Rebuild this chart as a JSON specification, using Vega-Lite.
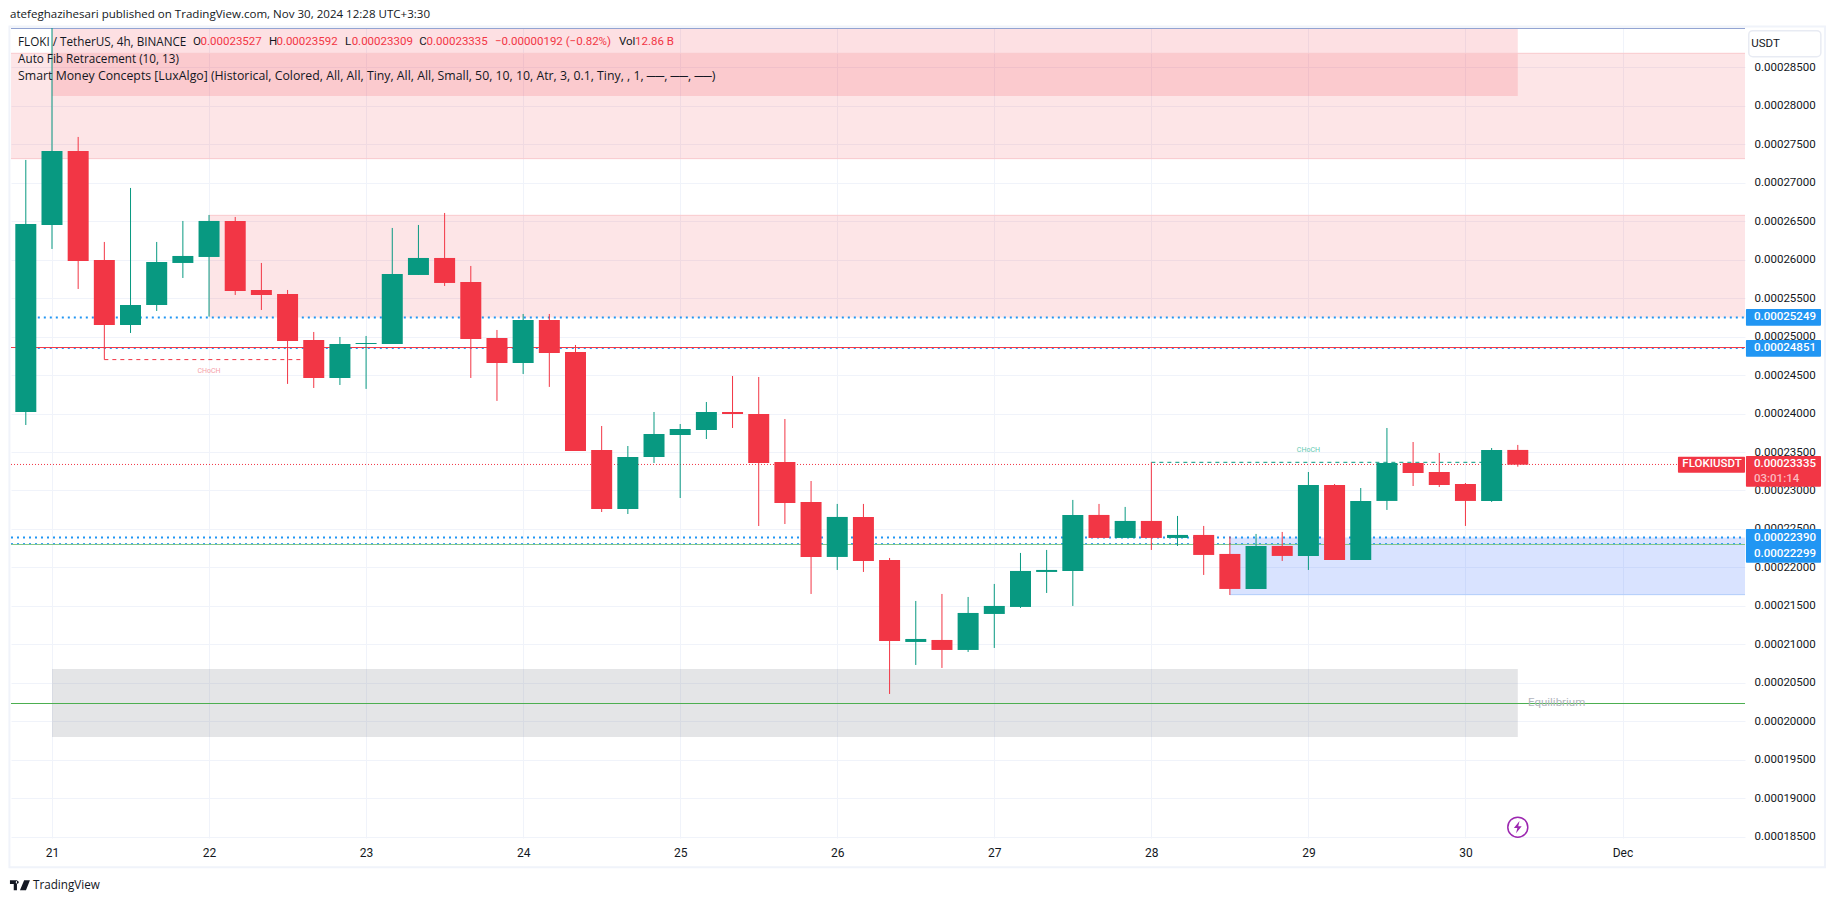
{"$schema":"https://vega.github.io/schema/vega-lite/v6.json","width":1734,"height":810,"autosize":"none","padding":{"left":11,"top":28,"right":90,"bottom":65},"background":"white","config":{"view":{"stroke":null},"font":"Roboto"},
"datasets":{
"candles":[
{"t":20.8333,"open":0.00024021,"high":0.00027296,"low":0.00023851,"close":0.00026464,"kind":"up"},
{"t":21,"open":0.00026451,"high":0.00029011,"low":0.00026139,"close":0.00027413,"kind":"up"},
{"t":21.1667,"open":0.00027413,"high":0.00027595,"low":0.00025619,"close":0.00025983,"kind":"down"},
{"t":21.3333,"open":0.00025996,"high":0.0002623,"low":0.00024701,"close":0.00025151,"kind":"down"},
{"t":21.5,"open":0.00025151,"high":0.00026932,"low":0.00025047,"close":0.00025411,"kind":"up"},
{"t":21.6667,"open":0.00025411,"high":0.0002623,"low":0.00025333,"close":0.0002597,"kind":"up"},
{"t":21.8333,"open":0.00025957,"high":0.00026503,"low":0.00025762,"close":0.00026048,"kind":"up"},
{"t":22,"open":0.00026035,"high":0.00026581,"low":0.0002526,"close":0.00026503,"kind":"up"},
{"t":22.1667,"open":0.00026503,"high":0.00026555,"low":0.00025541,"close":0.00025593,"kind":"down"},
{"t":22.3333,"open":0.00025606,"high":0.00025957,"low":0.00025346,"close":0.00025541,"kind":"down"},
{"t":22.5,"open":0.00025554,"high":0.00025606,"low":0.00024385,"close":0.00024943,"kind":"down"},
{"t":22.6667,"open":0.00024956,"high":0.0002506,"low":0.00024332,"close":0.00024462,"kind":"down"},
{"t":22.8333,"open":0.00024462,"high":0.00024995,"low":0.00024371,"close":0.00024904,"kind":"up"},
{"t":23,"open":0.00024904,"high":0.00025008,"low":0.0002432,"close":0.00024917,"kind":"up"},
{"t":23.1667,"open":0.00024904,"high":0.00026412,"low":0.00024904,"close":0.00025814,"kind":"up"},
{"t":23.3333,"open":0.00025801,"high":0.00026451,"low":0.00025801,"close":0.00026022,"kind":"up"},
{"t":23.5,"open":0.00026022,"high":0.00026607,"low":0.00025658,"close":0.00025697,"kind":"down"},
{"t":23.6667,"open":0.0002571,"high":0.00025918,"low":0.00024462,"close":0.00024969,"kind":"down"},
{"t":23.8333,"open":0.00024982,"high":0.00025086,"low":0.00024164,"close":0.00024657,"kind":"down"},
{"t":24,"open":0.00024657,"high":0.00025294,"low":0.00024514,"close":0.00025216,"kind":"up"},
{"t":24.1667,"open":0.00025216,"high":0.00025294,"low":0.00024346,"close":0.00024787,"kind":"down"},
{"t":24.3333,"open":0.000248,"high":0.00024891,"low":0.00023513,"close":0.00023513,"kind":"down"},
{"t":24.5,"open":0.00023526,"high":0.00023838,"low":0.0002272,"close":0.00022759,"kind":"down"},
{"t":24.6667,"open":0.00022759,"high":0.00023578,"low":0.00022694,"close":0.00023435,"kind":"up"},
{"t":24.8333,"open":0.00023435,"high":0.0002402,"low":0.00023357,"close":0.00023734,"kind":"up"},
{"t":25,"open":0.00023721,"high":0.00023864,"low":0.00022902,"close":0.00023799,"kind":"up"},
{"t":25.1667,"open":0.00023786,"high":0.0002415,"low":0.00023669,"close":0.0002402,"kind":"up"},
{"t":25.3333,"open":0.0002402,"high":0.00024488,"low":0.00023812,"close":0.00023994,"kind":"down"},
{"t":25.5,"open":0.00023994,"high":0.00024475,"low":0.00022538,"close":0.00023357,"kind":"down"},
{"t":25.6667,"open":0.0002337,"high":0.00023929,"low":0.00022564,"close":0.00022837,"kind":"down"},
{"t":25.8333,"open":0.00022851,"high":0.00023123,"low":0.00021655,"close":0.00022136,"kind":"down"},
{"t":26,"open":0.00022136,"high":0.00022825,"low":0.00021967,"close":0.00022656,"kind":"up"},
{"t":26.1667,"open":0.00022656,"high":0.00022825,"low":0.00021941,"close":0.00022084,"kind":"down"},
{"t":26.3333,"open":0.00022097,"high":0.00022123,"low":0.00020355,"close":0.00021044,"kind":"down"},
{"t":26.5,"open":0.00021031,"high":0.00021564,"low":0.00020732,"close":0.0002107,"kind":"up"},
{"t":26.6667,"open":0.00021057,"high":0.00021655,"low":0.00020693,"close":0.00020927,"kind":"down"},
{"t":26.8333,"open":0.00020927,"high":0.00021616,"low":0.00020901,"close":0.00021408,"kind":"up"},
{"t":27,"open":0.00021395,"high":0.00021785,"low":0.00020953,"close":0.00021499,"kind":"up"},
{"t":27.1667,"open":0.00021486,"high":0.00022188,"low":0.00021473,"close":0.00021954,"kind":"up"},
{"t":27.3333,"open":0.00021941,"high":0.00022227,"low":0.00021668,"close":0.00021967,"kind":"up"},
{"t":27.5,"open":0.00021954,"high":0.00022877,"low":0.00021499,"close":0.00022682,"kind":"up"},
{"t":27.6667,"open":0.00022682,"high":0.00022825,"low":0.00022383,"close":0.00022383,"kind":"down"},
{"t":27.8333,"open":0.00022383,"high":0.00022786,"low":0.00022383,"close":0.00022604,"kind":"up"},
{"t":28,"open":0.00022604,"high":0.00023366,"low":0.00022227,"close":0.00022383,"kind":"down"},
{"t":28.1667,"open":0.00022383,"high":0.00022669,"low":0.00022279,"close":0.00022422,"kind":"up"},
{"t":28.3333,"open":0.00022422,"high":0.00022539,"low":0.00021902,"close":0.00022162,"kind":"down"},
{"t":28.5,"open":0.00022175,"high":0.000224,"low":0.00021642,"close":0.0002172,"kind":"down"},
{"t":28.6667,"open":0.0002172,"high":0.00022435,"low":0.0002172,"close":0.00022279,"kind":"up"},
{"t":28.8333,"open":0.00022279,"high":0.00022461,"low":0.00022084,"close":0.00022149,"kind":"down"},
{"t":29,"open":0.00022149,"high":0.0002324,"low":0.00021967,"close":0.00023071,"kind":"up"},
{"t":29.1667,"open":0.00023071,"high":0.00023084,"low":0.00022097,"close":0.00022097,"kind":"down"},
{"t":29.3333,"open":0.00022097,"high":0.00023032,"low":0.00022097,"close":0.00022864,"kind":"up"},
{"t":29.5,"open":0.00022864,"high":0.00023812,"low":0.00022747,"close":0.00023357,"kind":"up"},
{"t":29.6667,"open":0.00023357,"high":0.0002363,"low":0.00023058,"close":0.00023227,"kind":"down"},
{"t":29.8333,"open":0.0002324,"high":0.00023487,"low":0.00023045,"close":0.00023071,"kind":"down"},
{"t":30,"open":0.00023084,"high":0.00023097,"low":0.00022539,"close":0.00022864,"kind":"down"},
{"t":30.1667,"open":0.00022864,"high":0.00023552,"low":0.00022851,"close":0.00023526,"kind":"up"},
{"t":30.3333,"open":0.00023527,"high":0.00023592,"low":0.00023309,"close":0.00023335,"kind":"down"}
],
"zones":[
{"t":20.739,"t2":31.78,"p":0.00028682,"p2":0.00027313,"kind":"supply"},
{"t":21,"t2":30.3333,"p":0.00029011,"p2":0.00028127,"kind":"supplyStrong"},
{"t":22,"t2":31.78,"p":0.00026576,"p2":0.00025249,"kind":"supply"},
{"t":28.5,"t2":31.78,"p":0.0002239,"p2":0.00021646,"kind":"demand"},
{"t":21,"t2":30.3333,"p":0.0002068,"p2":0.00019796,"kind":"equilibriumZone"}
],
"solid":[
{"t":20.739,"t2":31.78,"p":0.00029005,"kind":"top"},
{"t":20.739,"t2":31.78,"p":0.00027313,"kind":"supplyEdge"},
{"t":20.739,"t2":31.78,"p":0.00028682,"kind":"supplyEdge"},
{"t":22,"t2":31.78,"p":0.00026576,"kind":"supplyEdge"},
{"t":28.5,"t2":31.78,"p":0.00021646,"kind":"demandEdge"},
{"t":20.739,"t2":31.78,"p":0.00024858,"kind":"down"},
{"t":20.739,"t2":31.78,"p":0.00022298,"kind":"fib"},
{"t":20.739,"t2":31.78,"p":0.00020231,"kind":"eqLine"}
],
"dotThick":[
{"t":20.8333,"t2":31.78,"p":0.00025249,"kind":"blue"},
{"t":20.739,"t2":31.78,"p":0.0002239,"kind":"blue"}
],
"dotThin":[
{"t":20.8333,"t2":31.78,"p":0.00024845,"kind":"blue"},
{"t":20.739,"t2":31.78,"p":0.00022309,"kind":"blue"}
],
"lastPrice":[{"t":20.739,"t2":31.353,"p":0.00023338,"kind":"down"}],
"dashed":[
{"t":21.3333,"t2":22.6667,"p":0.00024701,"kind":"down"},
{"t":28,"t2":30.1667,"p":0.00023366,"kind":"up"}
],
"tags":[
{"t":31.786,"t2":32.264,"p":0.00025358,"p2":0.00025141,"kind":"blue"},
{"t":31.786,"t2":32.264,"p":0.00024955,"p2":0.00024738,"kind":"blue"},
{"t":31.786,"t2":32.264,"p":0.00022498,"p2":0.0002206,"kind":"blue"},
{"t":31.786,"t2":32.264,"p":0.00023447,"p2":0.00023048,"kind":"down"},
{"t":31.353,"t2":31.78,"p":0.00023438,"p2":0.0002323,"kind":"down"}
],
"tagText":[
{"t":31.837,"p":0.00025249,"label":"0.00025249","kind":"white"},
{"t":31.837,"p":0.00024851,"label":"0.00024851","kind":"white"},
{"t":31.837,"p":0.00022385,"label":"0.00022390","kind":"white"},
{"t":31.837,"p":0.00022169,"label":"0.00022299","kind":"white"},
{"t":31.837,"p":0.00023339,"label":"0.00023335","kind":"white"},
{"t":31.837,"p":0.00023148,"label":"03:01:14","kind":"timer"},
{"t":31.381,"p":0.00023339,"label":"FLOKIUSDT","kind":"white"}
],
"legendText":[
{"t":21.898,"p":0.00028833,"label":"O","kind":"ink"},
{"t":21.946,"p":0.00028833,"label":"0.00023527","kind":"down"},
{"t":22.382,"p":0.00028833,"label":"H","kind":"ink"},
{"t":22.429,"p":0.00028833,"label":"0.00023592","kind":"down"},
{"t":22.866,"p":0.00028833,"label":"L","kind":"ink"},
{"t":22.908,"p":0.00028833,"label":"0.00023309","kind":"down"},
{"t":23.339,"p":0.00028833,"label":"C","kind":"ink"},
{"t":23.385,"p":0.00028833,"label":"0.00023335","kind":"down"},
{"t":23.821,"p":0.00028833,"label":"−0.00000192 (−0.82%)","kind":"down"},
{"t":24.61,"p":0.00028833,"label":"Vol","kind":"ink"},
{"t":24.712,"p":0.00028833,"label":"12.86 B","kind":"down"},
{"t":31.82,"p":0.00028807,"label":"USDT","kind":"ink"},
{"t":30.398,"p":0.00020234,"label":"Equilibrium","kind":"eqLabel"}
],
"nameText":[
{"t":20.784,"p":0.00028833,"label":"FLOKI / TetherUS, 4h, BINANCE","kind":"ink"},
{"t":20.784,"p":0.00028608,"label":"Auto Fib Retracement (10, 13)","kind":"ink"},
{"t":20.879,"p":0.0001787,"label":"TradingView","kind":"ink"}
],
"headerText":[{"t":20.733,"p":0.0002918,"label":"atefeghazihesari published on TradingView.com, Nov 30, 2024 12:28 UTC+3:30","kind":"ink"}],
"smartText":[{"t":20.784,"p":0.00028387,"label":"Smart Money Concepts [LuxAlgo] (Historical, Colored, All, All, Tiny, All, All, Small, 50, 10, 10, Atr, 3, 0.1, Tiny, , 1, ──, ──, ──)","kind":"ink"}],
"chochText":[
{"t":22,"p":0.00024558,"label":"CHoCH","kind":"chochDown"},
{"t":29,"p":0.00023522,"label":"CHoCH","kind":"chochUp"}
],
"icons":[{"t":30.3333,"p":0.00018624,"kind":"purple"}],
"logo":[{"t":20.796,"p":0.0001787,"kind":"ink"}],
"frame":[{"t":20.729,"t2":32.289,"p":0.0002903,"p2":0.00018104}],
"button":[{"t":31.804,"t2":32.263,"p":0.00028976,"p2":0.00028638}]
},
"encoding":{
"x":{"field":"t","type":"quantitative","title":null,"scale":{"domain":[20.739,31.78],"nice":false,"zero":false,"padding":0},"axis":{"values":[21,22,23,24,25,26,27,28,29,30,31],"labelExpr":"datum.value==31?'Dec':format(datum.value,'d')","grid":true,"gridColor":"#f0f3fa","gridWidth":1,"domain":false,"ticks":false,"labelPadding":9,"labelFont":"Roboto","labelFontSize":12,"labelColor":"#131722"}},
"y":{"field":"p","type":"quantitative","title":null,"scale":{"domain":[0.00018483,0.00029011],"nice":false,"zero":false,"padding":0},"axis":{"orient":"right","values":[0.000185,0.00019,0.000195,0.0002,0.000205,0.00021,0.000215,0.00022,0.000225,0.00023,0.000235,0.00024,0.000245,0.00025,0.000255,0.00026,0.000265,0.00027,0.000275,0.00028,0.000285],"format":".8f","grid":true,"gridColor":"#f0f3fa","gridWidth":1,"domain":false,"ticks":false,"labelPadding":9,"labelFont":"Roboto","labelFontSize":11.5,"labelColor":"#131722"}},
"color":{"field":"kind","type":"nominal","legend":null,"scale":{"domain":["up","down","blue","ink","white","timer","supply","supplyStrong","demand","equilibriumZone","top","supplyEdge","demandEdge","fib","eqLine","eqLabel","chochDown","chochUp","purple"],"range":["#089981","#f23645","#2196f3","#131722","#ffffff","#fbb9bf","#f23645","#f23645","#2962ff","#787b86","#8fa0d0","#f9c9cd","#b2cdfb","#81c784","#4caf50","#b2b5be","#f5a0a8","#5fc9b2","#9c27b0"]}}
},
"layer":[
{"data":{"name":"frame"},"mark":{"type":"rect","filled":false,"strokeWidth":2},"encoding":{"x2":{"field":"t2"},"y2":{"field":"p2"},"color":{"value":"#f0f3fa"}}},
{"data":{"name":"zones"},"mark":{"type":"rect"},"encoding":{"x2":{"field":"t2"},"y2":{"field":"p2"},"opacity":{"field":"kind","type":"nominal","legend":null,"scale":{"domain":["supply","supplyStrong","demand","equilibriumZone"],"range":[0.13,0.2,0.19,0.21]}}}},
{"data":{"name":"solid"},"mark":{"type":"rule","strokeWidth":1},"encoding":{"x2":{"field":"t2"}}},
{"data":{"name":"dotThick"},"mark":{"type":"rule","strokeWidth":2,"strokeDash":[2,4]},"encoding":{"x2":{"field":"t2"}}},
{"data":{"name":"dotThin"},"mark":{"type":"rule","strokeWidth":1,"strokeDash":[2,4]},"encoding":{"x2":{"field":"t2"}}},
{"data":{"name":"lastPrice"},"mark":{"type":"rule","strokeWidth":1,"strokeDash":[1,2]},"encoding":{"x2":{"field":"t2"}}},
{"data":{"name":"dashed"},"mark":{"type":"rule","strokeWidth":1,"strokeDash":[4,4]},"encoding":{"x2":{"field":"t2"}}},
{"data":{"name":"candles"},"mark":{"type":"rule","strokeWidth":1},"encoding":{"y":{"field":"low","type":"quantitative","title":null},"y2":{"field":"high"}}},
{"data":{"name":"candles"},"mark":{"type":"bar","size":21,"orient":"vertical"},"encoding":{"y":{"field":"open","type":"quantitative","title":null},"y2":{"field":"close"}}},
{"data":{"name":"tags"},"mark":{"type":"rect","cornerRadius":1},"encoding":{"x2":{"field":"t2"},"y2":{"field":"p2"}}},
{"data":{"name":"button"},"mark":{"type":"rect","fill":"#ffffff","stroke":"#e8ebf3","strokeWidth":1.5,"cornerRadius":4},"encoding":{"x2":{"field":"t2"},"y2":{"field":"p2"},"color":{"value":"#ffffff"}}},
{"data":{"name":"tagText"},"mark":{"type":"text","align":"left","baseline":"middle","font":"Roboto","fontSize":11.5,"fontWeight":500},"encoding":{"text":{"field":"label"}}},
{"data":{"name":"legendText"},"mark":{"type":"text","align":"left","baseline":"middle","font":"Roboto","fontSize":11.5},"encoding":{"text":{"field":"label"}}},
{"data":{"name":"nameText"},"mark":{"type":"text","align":"left","baseline":"middle","font":"Open Sans","fontSize":11.7},"encoding":{"text":{"field":"label"}}},
{"data":{"name":"headerText"},"mark":{"type":"text","align":"left","baseline":"middle","font":"Open Sans","fontSize":11.55},"encoding":{"text":{"field":"label"}}},
{"data":{"name":"smartText"},"mark":{"type":"text","align":"left","baseline":"middle","font":"Open Sans","fontSize":12.3},"encoding":{"text":{"field":"label"}}},
{"data":{"name":"chochText"},"mark":{"type":"text","align":"center","baseline":"middle","font":"Roboto","fontSize":7},"encoding":{"text":{"field":"label"}}},
{"data":{"name":"icons"},"mark":{"type":"point","shape":"circle","filled":false,"size":400,"strokeWidth":1.5,"opacity":1}},
{"data":{"name":"icons"},"mark":{"type":"point","shape":"M.2 -.7L-.45 .1H-.05L-.2 .7L.45 -.1H.05Z","filled":true,"size":300,"opacity":1,"strokeWidth":0}},
{"data":{"name":"logo"},"mark":{"type":"point","shape":"M-1 -.5H-.3V.5H-.62V-.12H-1ZM-.12 -.3A.15 .15 0 1 0 -.12 -.29ZM.42 -.5H1L.6 .5H.0Z","filled":true,"size":400,"opacity":1,"strokeWidth":0}}
]}
